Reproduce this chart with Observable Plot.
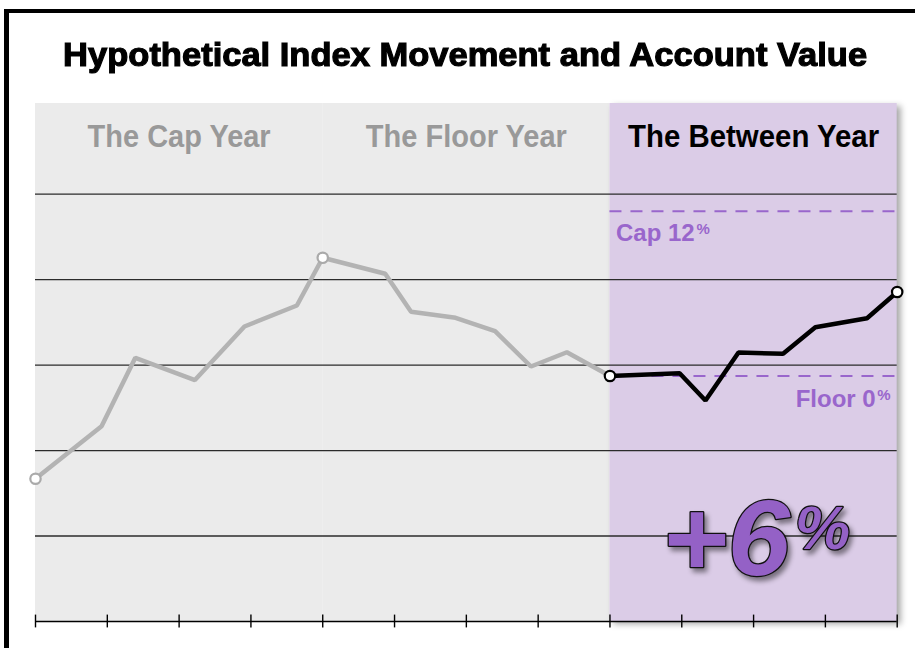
<!DOCTYPE html>
<html><head><meta charset="utf-8">
<script src="https://cdn.jsdelivr.net/npm/d3@7"></script>
<script src="https://cdn.jsdelivr.net/npm/@observablehq/plot@0.6"></script>
<style>
html,body{margin:0;padding:0;background:#fff;overflow:hidden;}
#wrap{position:relative;width:915px;height:648px;overflow:hidden;}
#frame{position:absolute;left:4px;top:9px;width:960px;height:720px;border-left:5px solid #000;border-top:4px solid #000;box-sizing:border-box;}
#chart{position:absolute;left:0;top:0;}
#title{position:absolute;left:0;top:37px;width:930px;text-align:center;font-family:"Liberation Sans",Arial,sans-serif;font-weight:700;font-size:34px;line-height:34px;white-space:nowrap;-webkit-text-stroke:1.2px #000;color:#000;}
#title span{display:inline-block;transform-origin:50% 50%;}
</style></head>
<body><div id="wrap"><div id="frame"></div><div id="chart"></div><div id="title"><span id="tspan"></span></div></div>
<script>
// ---- data ----
const title = "Hypothetical Index Movement and Account Value";
const years = ["The Cap Year", "The Floor Year", "The Between Year"];
const yearStart = [0, 4, 8];
const yearEnd = [4, 8, 12];
const yearMid = [2, 6, 10];
const quarterTicks = [0, 1, 2, 3, 4, 5, 6, 7, 8, 9, 10, 11, 12];
const gridLevels = [100, 200, 300, 400, 500];
const yTop = 606;
const headerLevel = 555;
// past index path (cap year + floor year)
const grayX = [0, 0.92, 1.39, 2.22, 2.91, 3.64, 4, 4.87, 5.23, 5.85, 6.4, 6.9, 7.4, 8];
const grayY = [167, 228.5, 308.5, 282.5, 345.1, 369.7, 425.5, 406.8, 362.3, 355.3, 339.6, 298.3, 315.0, 287.2];
// current index path (between year)
const blackX = [8, 8.97, 9.33, 9.79, 10.41, 10.86, 11.58, 12];
const blackY = [287.2, 290.4, 258.5, 314.7, 313.2, 344.3, 354.8, 385.5];
// open markers at year boundaries
const grayDotX = [0, 4];
const grayDotY = [167, 425.5];
const blackDotX = [8, 12];
const blackDotY = [287.2, 385.5];
const capLevel = 480;
const floorLevel = 287.2;
const capLabel = "Cap 12";
const floorLabel = "Floor 0";
const resultLabel = "+6";
const pct = "%";

// ---- styles ----
const FONT = '"Liberation Sans",Arial,sans-serif';
const GRAYBG = "#ebebeb", PURPLEBG = "#dbcce7", ACCENT = "#9966cc", RESULT = "#9461c6";

const grayPts = grayX.map((x, i) => ({x, y: grayY[i]}));
const blackPts = blackX.map((x, i) => ({x, y: blackY[i]}));
const grayDots = grayDotX.map((x, i) => ({x, y: grayDotY[i]}));
const blackDots = blackDotX.map((x, i) => ({x, y: blackDotY[i]}));

const labelStyle = {fill: ACCENT, fontWeight: "bold", fontFamily: FONT, lineAnchor: "bottom"};
const resultStyle = {fill: RESULT, stroke: "#111", strokeWidth: 2.5, paintOrder: "stroke", fontWeight: 900,
  fontStyle: "italic", fontFamily: FONT, lineAnchor: "bottom", textAnchor: "start", frameAnchor: "bottom"};

const chart = Plot.plot({
  width: 915, height: 648,
  marginLeft: 35, marginRight: 18.3, marginTop: 103, marginBottom: 27,
  x: {domain: [0, 12], axis: null},
  y: {domain: [0, yTop], axis: null},
  style: {background: "transparent", overflow: "visible"},
  marks: [
    Plot.rect([0, 1], {x1: i => yearStart[i], x2: i => yearEnd[i], y1: 0, y2: yTop, fill: GRAYBG}),
    Plot.rect([2], {x1: i => yearStart[i], x2: i => yearEnd[i], y1: 0, y2: yTop, fill: PURPLEBG}),
    Plot.ruleY(gridLevels, {stroke: "#2b2b2b", strokeWidth: 1.3}),
    Plot.ruleY([capLevel], {x1: yearStart[2], x2: yearEnd[2], stroke: ACCENT, strokeWidth: 2, strokeDasharray: "12,9"}),
    Plot.ruleY([floorLevel], {x1: yearStart[2], x2: yearEnd[2], stroke: ACCENT, strokeWidth: 2, strokeDasharray: "12,9"}),
    Plot.line(grayPts, {x: "x", y: "y", stroke: "#b3b3b3", strokeWidth: 4.5, strokeLinejoin: "miter"}),
    Plot.line(blackPts, {x: "x", y: "y", stroke: "#000", strokeWidth: 4.5, strokeLinejoin: "miter"}),
    Plot.dot(grayDots, {x: "x", y: "y", r: 5.2, fill: "#fff", stroke: "#aaa", strokeWidth: 2.2}),
    Plot.dot(blackDots, {x: "x", y: "y", r: 5.2, fill: "#fff", stroke: "#000", strokeWidth: 2.2}),
    Plot.text(years.slice(0, 2), {x: (d, i) => yearMid[i], y: headerLevel, text: d => d, lineAnchor: "bottom",
      fill: "#999", fontSize: 32, fontWeight: "bold", fontFamily: FONT}),
    Plot.text(years.slice(2), {x: yearMid[2], y: headerLevel, text: d => d, lineAnchor: "bottom",
      fill: "#000", fontSize: 32, fontWeight: "bold", fontFamily: FONT}),
    // cap label with small raised percent sign
    Plot.text([capLabel], {x: yearStart[2], y: capLevel, text: d => d, dx: 6, dy: 29.5, textAnchor: "start", fontSize: 24, ...labelStyle}),
    Plot.text([pct], {x: yearStart[2], y: capLevel, text: d => d, dx: 86.5, dy: 22.5, textAnchor: "start", fontSize: 15, ...labelStyle}),
    // floor label
    Plot.text([floorLabel], {x: yearEnd[2], y: floorLevel, text: d => d, dx: -21.5, dy: 30.5, textAnchor: "end", fontSize: 24, ...labelStyle}),
    Plot.text([pct], {x: yearEnd[2], y: floorLevel, text: d => d, dx: -6.5, dy: 23.5, textAnchor: "end", fontSize: 15, ...labelStyle}),
    // result
    Plot.text([resultLabel], {x: yearStart[2], text: d => d, dx: 52, dy: -47, fontSize: 108, ...resultStyle}),
    Plot.text([pct], {x: yearStart[2], text: d => d, dx: 185, dy: -73, fontSize: 62, ...resultStyle}),
    Plot.ruleY([0], {stroke: "#000", strokeWidth: 1.4}),
    Plot.ruleX(quarterTicks, {y1: -7.5, y2: 7.5, stroke: "#000", strokeWidth: 1.4})
  ]
});
document.getElementById("chart").append(chart);

// ---- post styling ----
chart.querySelectorAll(`g[fill="${PURPLEBG}"]`).forEach(g => g.style.filter = "drop-shadow(4px 3px 3px rgba(0,0,0,0.35))");
chart.querySelectorAll(`g[fill="${RESULT}"]`).forEach(g => g.style.filter = "drop-shadow(3px 4px 2.5px rgba(0,0,0,0.45))");
// condensed look: squeeze glyphs to the widths they have in the reference
const fitWidths = {"The Cap Year": 183, "The Floor Year": 201, "The Between Year": 251, [resultLabel]: 128};
chart.querySelectorAll("text").forEach(el => {
  const t = el.textContent;
  if (fitWidths[t]) { el.setAttribute("textLength", fitWidths[t]); el.setAttribute("lengthAdjust", "spacingAndGlyphs"); }
});
// title fitted to its width in the reference
const tspan = document.getElementById("tspan");
tspan.textContent = title;
const w = tspan.getBoundingClientRect().width;
tspan.style.transform = `scaleX(${804 / w})`;
</script>
</body></html>
